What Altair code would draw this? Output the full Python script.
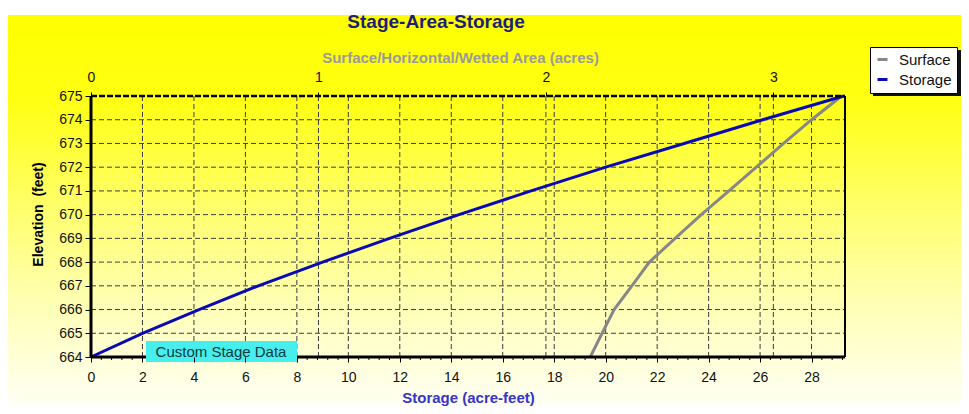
import altair as alt
import pandas as pd

# ---------------- data ----------------
elevation = [664, 665, 666, 667, 668, 669, 670, 671, 672, 673, 674, 675]
storage_af = [0.0, 2.0, 4.2, 6.5, 9.0, 11.6, 14.3, 17.1, 20.0, 23.05, 26.1, 29.25]
surface_ac = [2.195, 2.247, 2.30, 2.378, 2.455, 2.568, 2.683, 2.805, 2.925, 3.045, 3.168, 3.30]

storage_ticks = [0, 2, 4, 6, 8, 10, 12, 14, 16, 18, 20, 22, 24, 26, 28]
storage_minor = [0.4, 0.8, 1.2, 1.6, 2.4, 2.8, 3.2, 3.6, 4.4, 4.8, 5.2, 5.6,
                 6.4, 6.8, 7.2, 7.6, 8.4, 8.8, 9.2, 9.6, 10.4, 10.8, 11.2, 11.6,
                 12.4, 12.8, 13.2, 13.6, 14.4, 14.8, 15.2, 15.6, 16.4, 16.8, 17.2, 17.6,
                 18.4, 18.8, 19.2, 19.6, 20.4, 20.8, 21.2, 21.6, 22.4, 22.8, 23.2, 23.6,
                 24.4, 24.8, 25.2, 25.6, 26.4, 26.8, 27.2, 27.6, 28.4, 28.8, 29.2]
area_ticks = [0, 1, 2, 3]
elev_ticks = [664, 665, 666, 667, 668, 669, 670, 671, 672, 673, 674, 675]
series_names = ["Surface", "Storage"]
series_colors = ["#878787", "#0a0ab4"]

STORAGE_MAX = 29.3
AREA_MAX = 3.315
K = STORAGE_MAX / AREA_MAX  # acres -> storage-axis units (top axis mapped onto same pixel range)

W, H = 754, 261
FONT = "Liberation Sans"

xscale = alt.Scale(domain=[0, STORAGE_MAX], nice=False, zero=False)
yscale = alt.Scale(domain=[664, 675], nice=False, zero=False)

surface_df = pd.DataFrame({"elev": elevation, "area": surface_ac, "series": "Surface"})
storage_df = pd.DataFrame({"elev": elevation, "storage": storage_af, "series": "Storage"})
one = pd.DataFrame({"k": [0]})

# ---------------- background gradient ----------------
bg = alt.Chart(one).mark_rect(
    clip=False,
    fill=alt.LinearGradient(
        gradient="linear",
        stops=[
            alt.GradientStop(color="#ffff00", offset=0),
            alt.GradientStop(color="#ffff14", offset=0.22),
            alt.GradientStop(color="#ffff6e", offset=0.5),
            alt.GradientStop(color="#ffffb8", offset=0.75),
            alt.GradientStop(color="#fffff6", offset=1),
        ],
        x1=0, x2=0, y1=0, y2=1,
    ),
).encode(x=alt.value(-83), x2=alt.value(870), y=alt.value(-81), y2=alt.value(310))

# ---------------- grid ----------------
grid_style = dict(color="#3c3c3c", strokeDash=[5, 3], strokeWidth=1)
hgrid = alt.Chart(pd.DataFrame({"e": elev_ticks[1:-1]})).mark_rule(**grid_style).encode(
    y=alt.Y("e:Q", scale=yscale, axis=None), x=alt.value(0), x2=alt.value(W)
)
vgrid_s = alt.Chart(pd.DataFrame({"s": storage_ticks[1:]})).mark_rule(**grid_style).encode(
    x=alt.X("s:Q", scale=xscale, axis=None), y=alt.value(0), y2=alt.value(H)
)
vgrid_a = alt.Chart(pd.DataFrame({"a": area_ticks[1:]})).transform_calculate(
    xs=f"datum.a * {K}"
).mark_rule(**grid_style).encode(
    x=alt.X("xs:Q", scale=xscale, axis=None), y=alt.value(0), y2=alt.value(H)
)

color = alt.Color(
    "series:N",
    scale=alt.Scale(domain=series_names, range=series_colors),
    legend=alt.Legend(
        orient="none", legendX=779, legendY=-49, title=None,
        fillColor="white", strokeColor="black", padding=5,
        labelFontSize=15, labelFont=FONT, labelColor="#111111",
        symbolType="stroke", symbolStrokeWidth=3, symbolSize=100,
        labelOffset=9, rowPadding=4, cornerRadius=0,
    ),
)

top_axis = alt.Axis(
    orient="top", values=[v * K for v in area_ticks],
    labelExpr=f"format(round(datum.value / {K}), 'd')",
    title="Surface/Horizontal/Wetted Area (acres)",
    titleColor="#9a9a9a", titleFontSize=15, titleFontWeight="bold", titleFont=FONT,
    titleX=369, titleY=-39, titleAlign="center", titleBaseline="middle", titleAngle=0,
    labelFontSize=14, labelFont=FONT, labelColor="#111111", labelFlush=False,
    tickSize=4, tickColor="black", labelPadding=8, domain=False, grid=False, zindex=1,
)
bottom_axis = alt.Axis(
    orient="bottom", values=storage_ticks, format="d",
    title="Storage (acre-feet)",
    titleColor="#3535c8", titleFontSize=15, titleFontWeight="bold", titleFont=FONT,
    titleX=377, titleY=40, titleAlign="center", titleBaseline="middle",
    labelFontSize=14, labelFont=FONT, labelColor="#111111", labelFlush=False,
    tickSize=5, tickColor="black", labelPadding=8, domain=False, grid=False, zindex=1,
)
y_axis = alt.Axis(
    orient="left", values=elev_ticks, format="d",
    title="Elevation \u00a0(feet)",
    titleColor="#000000", titleFontSize=14, titleFontWeight="bold", titleFont=FONT,
    titleX=-53, titleY=118, titleAngle=270, titleAlign="center", titleBaseline="middle",
    labelFontSize=14, labelFont=FONT, labelColor="#111111",
    tickSize=6, tickColor="black", labelPadding=3, domain=False, grid=False, zindex=1,
)

surface_line = alt.Chart(surface_df).transform_calculate(
    xs=f"datum.area * {K}"
).mark_line(strokeWidth=3).encode(
    x=alt.X("xs:Q", scale=xscale, axis=top_axis),
    y=alt.Y("elev:Q", scale=yscale, axis=None),
    color=color,
    order=alt.Order("elev:Q"),
)
storage_line = alt.Chart(storage_df).mark_line(strokeWidth=3).encode(
    x=alt.X("storage:Q", scale=xscale, axis=bottom_axis),
    y=alt.Y("elev:Q", scale=yscale, axis=y_axis),
    color=color,
    order=alt.Order("elev:Q"),
)

# ---------------- frame ----------------
frame_left = alt.Chart(one).mark_rule(color="black", strokeWidth=3).encode(
    x=alt.value(0), y=alt.value(0), y2=alt.value(H))
frame_bottom = alt.Chart(one).mark_rule(color="black", strokeWidth=3).encode(
    x=alt.value(0), x2=alt.value(W), y=alt.value(H))
frame_right = alt.Chart(one).mark_rule(color="black", strokeWidth=2).encode(
    x=alt.value(W), y=alt.value(0), y2=alt.value(H))
frame_top = alt.Chart(one).mark_rule(color="black", strokeWidth=2.5, strokeDash=[6, 2]).encode(
    x=alt.value(0), x2=alt.value(W), y=alt.value(0))

minor = alt.Chart(pd.DataFrame({"m": storage_minor})).mark_rule(color="black", strokeWidth=1).encode(
    x=alt.X("m:Q", scale=xscale, axis=None), y=alt.value(H), y2=alt.value(H + 3))

# ---------------- annotation box ----------------
note_box = alt.Chart(one).mark_rect(fill="#46eeee").encode(
    x=alt.value(55), x2=alt.value(206), y=alt.value(245), y2=alt.value(266))
note_text = alt.Chart(pd.DataFrame({"t": ["Custom Stage Data"]})).mark_text(
    font=FONT, fontSize=15, color="#0e3a3a", align="center", baseline="middle"
).encode(text="t:N", x=alt.value(130), y=alt.value(256))

legend_shadow = alt.Chart(one).mark_rect(fill="#111111", clip=False).encode(
    x=alt.value(782), x2=alt.value(872), y=alt.value(-46), y2=alt.value(0))

title_text = alt.Chart(pd.DataFrame({"t": ["Stage-Area-Storage"]})).mark_text(
    font=FONT, fontSize=19, fontWeight="bold", color="#1e1e78", align="center", baseline="middle"
).encode(text="t:N", x=alt.value(345), y=alt.value(-74))

chart = alt.layer(
    bg, hgrid, vgrid_s, vgrid_a, surface_line, storage_line,
    frame_left, frame_bottom, frame_right, frame_top, minor,
    note_box, note_text, legend_shadow, title_text,
).resolve_scale(x="shared", y="shared").resolve_axis(x="independent", y="independent").properties(
    width=W, height=H,
    autosize=alt.AutoSizeParams(type="none"),
    padding={"left": 83, "top": 88, "right": 116, "bottom": 49},
    background="white",
).configure(font=FONT).configure_view(stroke=None)

chart.save("out.html", embed_options={"renderer": "svg", "actions": False})
